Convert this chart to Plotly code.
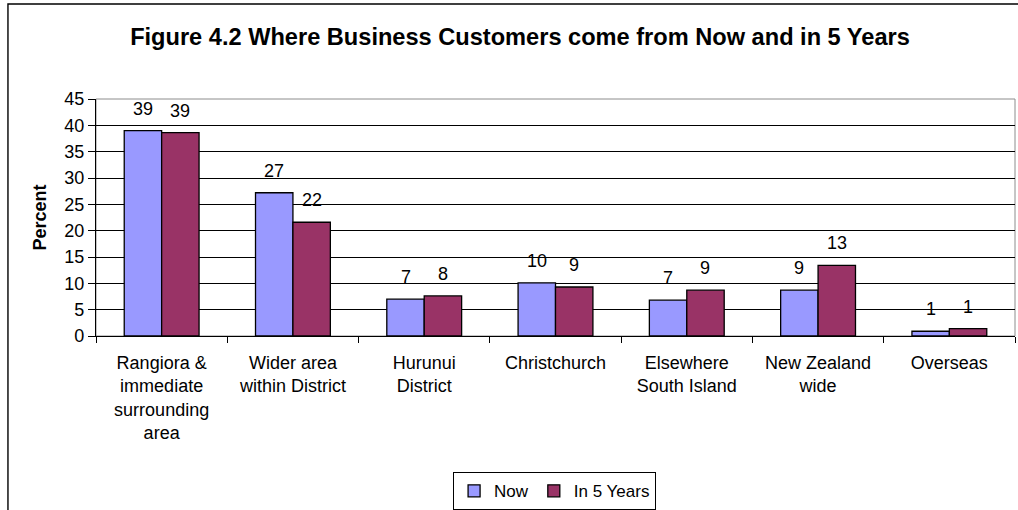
import plotly.graph_objects as go

# Survey data: share of business customers by origin (percent)
categories = [
    "Rangiora &<br>immediate<br>surrounding<br>area",
    "Wider area<br>within District",
    "Hurunui<br>District",
    "Christchurch",
    "Elsewhere<br>South Island",
    "New Zealand<br>wide",
    "Overseas",
]
now_values = [39.0, 27.2, 7.0, 10.1, 6.8, 8.7, 0.9]
five_year_values = [38.6, 21.6, 7.6, 9.3, 8.7, 13.4, 1.4]
series_names = ["Now", "In 5 Years"]
y_ticks = [0, 5, 10, 15, 20, 25, 30, 35, 40, 45]

FONT = "Liberation Sans, Arial, sans-serif"
NOW_COLOR = "#9999FF"
FIVE_COLOR = "#993366"
BARGAP = 0.43

fig = go.Figure()
for name, vals, color in [
    (series_names[0], now_values, NOW_COLOR),
    (series_names[1], five_year_values, FIVE_COLOR),
]:
    fig.add_trace(go.Bar(
        name=name, x=categories, y=vals,
        marker=dict(color=color, line=dict(color="#000000", width=1.3)),
        hoverinfo="x+y",
    ))

# value labels above each bar, rounded to whole percent
plot_w = 1018 - 96 - 3
bar_w = plot_w / len(categories) * (1 - BARGAP) / 2
for vals, shift in [(now_values, -bar_w / 2), (five_year_values, bar_w / 2)]:
    for c, v in zip(categories, vals):
        fig.add_annotation(
            x=c, y=v, text=f"{v:.0f}", showarrow=False,
            xshift=shift, yshift=10, yanchor="bottom",
            font=dict(family=FONT, size=18, color="#000000"),
        )

# gray plot-area frame (top and right)
fig.add_shape(type="rect", xref="paper", yref="paper", x0=0, x1=1, y0=0, y1=1,
              line=dict(color="#8c8c8c", width=1), layer="below")
# outer chart border
fig.add_shape(type="rect", xref="paper", yref="paper",
              x0=-0.0958, x1=1.2, y0=-1.5, y1=1.401,
              line=dict(color="#000000", width=1.4), layer="above")

fig.update_layout(
    width=1018, height=510,
    margin=dict(l=96, r=3, t=99, b=174, autoexpand=False),
    paper_bgcolor="#ffffff", plot_bgcolor="#ffffff",
    barmode="group", bargap=BARGAP, bargroupgap=0,
    font=dict(family=FONT, size=18, color="#000000"),
    title=dict(
        text="<b>Figure 4.2 Where Business Customers come from Now and in 5 Years</b>",
        x=520 / 1018, xref="container", xanchor="center",
        y=1 - 37 / 510, yanchor="middle",
        font=dict(family=FONT, size=23.6, color="#000000"),
    ),
    showlegend=True,
    legend=dict(
        orientation="h", x=0.499, xanchor="center", y=-0.575, yanchor="top",
        bordercolor="#000000", borderwidth=1, bgcolor="#ffffff",
        font=dict(family=FONT, size=17, color="#000000"),
        itemwidth=30, tracegroupgap=0,
    ),
    xaxis=dict(
        type="category", showline=True, linecolor="#000000", linewidth=1.3,
        ticks="outside", tickson="boundaries", ticklen=6, tickcolor="#000000",
        ticklabelstandoff=10,
        tickfont=dict(family=FONT, size=18, color="#000000"),
        showgrid=False,
    ),
    yaxis=dict(
        range=[0, 45], tickvals=y_ticks, showline=True, linecolor="#000000",
        linewidth=1.3, ticks="outside", ticklen=7, tickcolor="#000000",
        tickfont=dict(family=FONT, size=18, color="#000000"),
        showgrid=True, gridcolor="#000000", gridwidth=1, zeroline=False,
        title=dict(text="<b>Percent</b>", standoff=12,
                   font=dict(family=FONT, size=18, color="#000000")),
    ),
)

fig.write_html("out.html")
